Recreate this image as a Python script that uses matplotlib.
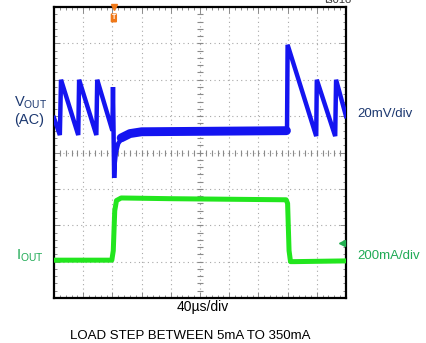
import matplotlib.pyplot as plt
import numpy as np

plt.rcParams['font.family'] = ['Liberation Sans', 'DejaVu Sans']

# scope screen: 10 x 8 divisions, traces in division units
vout_x = [0.0, 0.20, 0.24, 0.83, 0.86, 1.45, 1.48, 2.00, 2.02, 2.06, 2.08,
          2.12, 2.20, 2.35, 2.60, 3.00, 4.00, 7.98, 8.00, 8.98, 9.00, 9.63, 9.66, 10.0]
vout_y = [4.95, 4.48, 6.00, 4.48, 6.00, 4.48, 6.00, 4.60, 5.80, 3.30, 3.70,
          4.00, 4.25, 4.42, 4.52, 4.57, 4.60, 4.60, 6.96, 4.45, 6.00, 4.45, 6.00, 5.00]

iout_x = [0.0, 1.98, 2.03, 2.08, 2.14, 2.30, 4.00, 7.95, 8.00, 8.05, 8.10, 8.25, 10.0]
iout_y = [1.04, 1.04, 1.30, 2.40, 2.68, 2.75, 2.73, 2.70, 2.60, 1.30, 1.00, 1.00, 1.02]

# settled (noisy) part of VOUT after the step
flat_x = [2.30, 2.60, 3.00, 7.96]
flat_y = [4.40, 4.52, 4.57, 4.60]

trigger_x = 2.05
iout_ground = 1.52

fig = plt.figure(figsize=(4.26, 3.43), dpi=100)
ax = fig.add_axes([54 / 426, 45 / 343, 292 / 426, 291 / 343])
ax.set_xlim(0, 10)
ax.set_ylim(0, 8)

# graticule
grid_kw = dict(color='#a8a8a8', lw=0.8, ls=(0, (1, 3)), zorder=1)
for gx in range(1, 10):
    ax.axvline(gx, **grid_kw)
for gy in range(1, 8):
    ax.axhline(gy, **grid_kw)
ticks_x = np.arange(0, 10.01, 0.2)
ticks_y = np.arange(0, 8.01, 0.2)
ax.plot(ticks_x, np.full_like(ticks_x, 4), ls='none', marker='|', ms=4,
        mew=0.8, color='#8a8a8a', zorder=1)
ax.plot(np.full_like(ticks_y, 5), ticks_y, ls='none', marker='_', ms=4,
        mew=0.8, color='#8a8a8a', zorder=1)

ax.set_xticks(np.arange(0, 10.01, 1))
ax.set_yticks(np.arange(0, 8.01, 1))
ax.set_xticks(ticks_x, minor=True)
ax.set_yticks(ticks_y, minor=True)
ax.tick_params(which='both', direction='in', top=True, right=True,
               labelbottom=False, labelleft=False, color='#8a8a8a', width=0.7)
ax.tick_params(which='major', length=4)
ax.tick_params(which='minor', length=2.5)
for s in ax.spines.values():
    s.set_linewidth(1.6)
    s.set_color('black')

# traces
ax.plot(vout_x, vout_y, color='#1414f0', lw=3.2, solid_joinstyle='miter', zorder=3)
ax.plot(flat_x, flat_y, color='#1414f0', lw=6.4, solid_capstyle='round', zorder=3)
ax.plot(iout_x, iout_y, color='#22e61e', lw=3.6, zorder=3)

# trigger and ground markers
ax.plot(trigger_x, 8.0, marker='v', color='#f07818', ms=5, clip_on=False, zorder=5)
ax.text(trigger_x, 7.7, 'T', color='white', fontsize=5, fontweight='bold',
        ha='center', va='center', zorder=5,
        bbox=dict(boxstyle='round,pad=0.15', fc='#f07818', ec='none'))
ax.plot(9.85, iout_ground, marker='<', color='#22b050', ms=4, zorder=5)

navy = '#1c3870'
green = '#1faa55'
fig.text(31 / 426, 1 - 103 / 343, r'V$_{\mathregular{OUT}}$', color=navy,
         fontsize=10.5, ha='center', va='center')
fig.text(29 / 426, 1 - 120 / 343, '(AC)', color=navy, fontsize=10.5,
         ha='center', va='center')
fig.text(30 / 426, 1 - 256 / 343, r'I$_{\mathregular{OUT}}$', color=green,
         fontsize=10.5, ha='center', va='center')
fig.text(357 / 426, 1 - 114 / 343, '20mV/div', color=navy, fontsize=9.5,
         ha='left', va='center')
fig.text(357 / 426, 1 - 256 / 343, '200mA/div', color=green, fontsize=9.5,
         ha='left', va='center')
fig.text(203 / 426, 1 - 307 / 343, '40µs/div', color='black', fontsize=10,
         ha='center', va='center')
fig.text(190 / 426, 1 - 336 / 343, 'LOAD STEP BETWEEN 5mA TO 350mA',
         color='black', fontsize=9.5, ha='center', va='center')
fig.text(338 / 426, 1.0, 'ts018', color='#333333', fontsize=8,
         ha='center', va='center')

fig.savefig('out.png', dpi=100)
